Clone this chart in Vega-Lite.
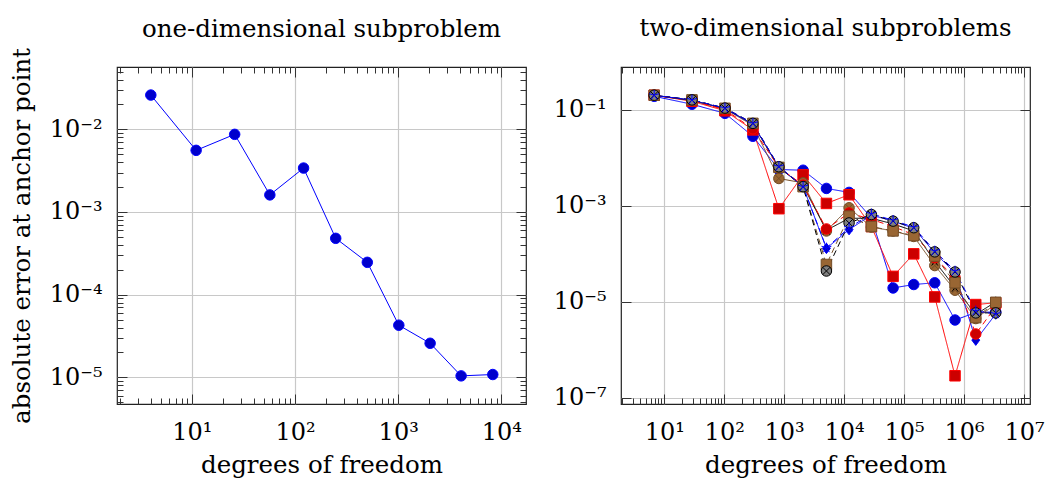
{
  "$schema": "https://vega.github.io/schema/vega-lite/v6.json",
  "background": "white",
  "padding": {"left": 8, "top": 14, "right": 0, "bottom": 0},
  "bounds": "flush",
  "spacing": 95,
  "config": {
    "view": {"stroke": "#222222", "strokeWidth": 1.2},
    "axis": {
      "domain": false,
      "ticks": true,
      "tickColor": "#333333",
      "tickWidth": 1,
      "labelFont": "DejaVu Serif",
      "labelFontSize": 24,
      "labelColor": "black",
      "titleFont": "DejaVu Serif",
      "titleFontSize": 24.5,
      "titleFontWeight": "normal",
      "titleColor": "black",
      "gridColor": "#c8c8c8",
      "gridWidth": 1.2,
      "labelOverlap": false,
      "labelFlush": false
    },
    "title": {"font": "DejaVu Serif", "fontSize": 24.5, "fontWeight": "normal", "color": "black", "frame": "group"}
  },
  "datasets": {
    "one": [
      {"d": 4.0, "e": 0.026},
      {"d": 11, "e": 0.00557},
      {"d": 26, "e": 0.0087},
      {"d": 57, "e": 0.00161},
      {"d": 121, "e": 0.0034},
      {"d": 248, "e": 0.00048},
      {"d": 502, "e": 0.000246},
      {"d": 1014, "e": 4.27e-5},
      {"d": 2040, "e": 2.58e-5},
      {"d": 4074, "e": 1.04e-5},
      {"d": 8260, "e": 1.08e-5}
    ],
    "two": [
      {"s": 1, "d": 6.8, "e": 0.19}, {"s": 1, "d": 29, "e": 0.13}, {"s": 1, "d": 103, "e": 0.084}, {"s": 1, "d": 301, "e": 0.028}, {"s": 1, "d": 816, "e": 0.0057}, {"s": 1, "d": 2070, "e": 0.0055}, {"s": 1, "d": 5070, "e": 0.0023}, {"s": 1, "d": 12100, "e": 0.0019}, {"s": 1, "d": 28500, "e": 0.00056}, {"s": 1, "d": 65600, "e": 1.95e-5}, {"s": 1, "d": 145000, "e": 2.3e-5}, {"s": 1, "d": 325000, "e": 2.5e-5}, {"s": 1, "d": 708000, "e": 4.2e-6}, {"s": 1, "d": 1570000, "e": 6.0e-6}, {"s": 1, "d": 3380000, "e": 6.2e-6},
      {"s": 2, "d": 6.8, "e": 0.2}, {"s": 2, "d": 29, "e": 0.15}, {"s": 2, "d": 103, "e": 0.095}, {"s": 2, "d": 301, "e": 0.038}, {"s": 2, "d": 816, "e": 0.00087}, {"s": 2, "d": 2070, "e": 0.0044}, {"s": 2, "d": 5070, "e": 0.00112}, {"s": 2, "d": 12100, "e": 0.0017}, {"s": 2, "d": 28500, "e": 0.00037}, {"s": 2, "d": 65600, "e": 3.4e-5}, {"s": 2, "d": 145000, "e": 1.0e-4}, {"s": 2, "d": 325000, "e": 1.27e-5}, {"s": 2, "d": 708000, "e": 2.9e-7}, {"s": 2, "d": 1570000, "e": 8.8e-6}, {"s": 2, "d": 3380000, "e": 9.6e-6},
      {"s": 3, "d": 6.8, "e": 0.2}, {"s": 3, "d": 29, "e": 0.155}, {"s": 3, "d": 103, "e": 0.104}, {"s": 3, "d": 301, "e": 0.047}, {"s": 3, "d": 816, "e": 0.0037}, {"s": 3, "d": 2070, "e": 0.003}, {"s": 3, "d": 5070, "e": 0.0003}, {"s": 3, "d": 12100, "e": 0.00091}, {"s": 3, "d": 28500, "e": 0.00036}, {"s": 3, "d": 65600, "e": 0.0003}, {"s": 3, "d": 145000, "e": 0.00023}, {"s": 3, "d": 325000, "e": 5.7e-5}, {"s": 3, "d": 708000, "e": 1.75e-5}, {"s": 3, "d": 1570000, "e": 4.5e-6}, {"s": 3, "d": 3380000, "e": 9.0e-6},
      {"s": 4, "d": 6.8, "e": 0.2}, {"s": 4, "d": 29, "e": 0.157}, {"s": 4, "d": 103, "e": 0.106}, {"s": 4, "d": 301, "e": 0.05}, {"s": 4, "d": 816, "e": 0.0062}, {"s": 4, "d": 2070, "e": 0.0026}, {"s": 4, "d": 5070, "e": 0.00031}, {"s": 4, "d": 12100, "e": 0.00055}, {"s": 4, "d": 28500, "e": 0.00055}, {"s": 4, "d": 65600, "e": 0.00042}, {"s": 4, "d": 145000, "e": 0.0003}, {"s": 4, "d": 325000, "e": 7.0e-5}, {"s": 4, "d": 708000, "e": 2.0e-5}, {"s": 4, "d": 1570000, "e": 5.5e-6}, {"s": 4, "d": 3380000, "e": 1.0e-5},
      {"s": 5, "d": 6.8, "e": 0.2}, {"s": 5, "d": 29, "e": 0.158}, {"s": 5, "d": 103, "e": 0.105}, {"s": 5, "d": 301, "e": 0.05}, {"s": 5, "d": 816, "e": 0.0064}, {"s": 5, "d": 2070, "e": 0.0025}, {"s": 5, "d": 5070, "e": 0.00013}, {"s": 5, "d": 12100, "e": 0.00032}, {"s": 5, "d": 28500, "e": 0.00064}, {"s": 5, "d": 65600, "e": 0.00048}, {"s": 5, "d": 145000, "e": 0.00034}, {"s": 5, "d": 325000, "e": 1.05e-4}, {"s": 5, "d": 708000, "e": 4.0e-5}, {"s": 5, "d": 1570000, "e": 1.6e-6}, {"s": 5, "d": 3380000, "e": 5.6e-6},
      {"s": 6, "d": 6.8, "e": 0.2}, {"s": 6, "d": 29, "e": 0.155}, {"s": 6, "d": 103, "e": 0.1}, {"s": 6, "d": 301, "e": 0.04}, {"s": 6, "d": 816, "e": 0.0063}, {"s": 6, "d": 2070, "e": 0.0027}, {"s": 6, "d": 5070, "e": 0.00033}, {"s": 6, "d": 12100, "e": 0.00071}, {"s": 6, "d": 28500, "e": 0.00052}, {"s": 6, "d": 65600, "e": 0.00037}, {"s": 6, "d": 145000, "e": 0.00025}, {"s": 6, "d": 325000, "e": 8.3e-5}, {"s": 6, "d": 708000, "e": 3.2e-5}, {"s": 6, "d": 1570000, "e": 2.15e-6}, {"s": 6, "d": 3380000, "e": 8.0e-6},
      {"s": 7, "d": 6.8, "e": 0.2}, {"s": 7, "d": 29, "e": 0.16}, {"s": 7, "d": 103, "e": 0.107}, {"s": 7, "d": 301, "e": 0.052}, {"s": 7, "d": 816, "e": 0.0063}, {"s": 7, "d": 2070, "e": 0.0025}, {"s": 7, "d": 5070, "e": 6.0e-5}, {"s": 7, "d": 12100, "e": 0.00061}, {"s": 7, "d": 28500, "e": 0.00037}, {"s": 7, "d": 65600, "e": 0.0003}, {"s": 7, "d": 145000, "e": 0.00024}, {"s": 7, "d": 325000, "e": 9.0e-5}, {"s": 7, "d": 708000, "e": 2.5e-5}, {"s": 7, "d": 1570000, "e": 4.7e-6}, {"s": 7, "d": 3380000, "e": 9.8e-6},
      {"s": 8, "d": 6.8, "e": 0.2}, {"s": 8, "d": 29, "e": 0.16}, {"s": 8, "d": 103, "e": 0.108}, {"s": 8, "d": 301, "e": 0.052}, {"s": 8, "d": 816, "e": 0.0065}, {"s": 8, "d": 2070, "e": 0.0025}, {"s": 8, "d": 5070, "e": 4.4e-5}, {"s": 8, "d": 12100, "e": 0.00044}, {"s": 8, "d": 28500, "e": 0.00066}, {"s": 8, "d": 65600, "e": 0.00048}, {"s": 8, "d": 145000, "e": 0.00035}, {"s": 8, "d": 325000, "e": 1.1e-4}, {"s": 8, "d": 708000, "e": 4.2e-5}, {"s": 8, "d": 1570000, "e": 5.9e-6}, {"s": 8, "d": 3380000, "e": 5.9e-6},
      {"s": 9, "d": 6.8, "e": 0.2}, {"s": 9, "d": 29, "e": 0.16}, {"s": 9, "d": 103, "e": 0.108}, {"s": 9, "d": 301, "e": 0.052}, {"s": 9, "d": 816, "e": 0.0066}, {"s": 9, "d": 2070, "e": 0.0025}, {"s": 9, "d": 5070, "e": 0.000133}, {"s": 9, "d": 12100, "e": 0.00035}, {"s": 9, "d": 28500, "e": 0.00068}, {"s": 9, "d": 65600, "e": 0.0005}, {"s": 9, "d": 145000, "e": 0.00036}, {"s": 9, "d": 325000, "e": 1.15e-4}, {"s": 9, "d": 708000, "e": 4.4e-5}, {"s": 9, "d": 1570000, "e": 6.5e-6}, {"s": 9, "d": 3380000, "e": 5.6e-6}
    ]
  },
  "hconcat": [
    {
      "width": 409,
      "height": 337,
      "title": {"text": "one-dimensional subproblem", "offset": 5.5},
      "data": {"name": "one"},
      "resolve": {"axis": {"x": "independent", "y": "independent"}},
      "layer": [
        {
          "mark": {"type": "line", "stroke": "#0000FF", "strokeWidth": 1},
          "encoding": {
            "x": {
              "field": "d", "type": "quantitative",
              "scale": {"type": "log", "domain": [1.88, 17340], "nice": false},
              "axis": {
                "orient": "bottom",
                "title": "degrees of freedom",
                "values": [2,3,4,5,6,7,8,9,10,20,30,40,50,60,70,80,90,100,200,300,400,500,600,700,800,900,1000,2000,3000,4000,5000,6000,7000,8000,9000,10000],
                "labelExpr": "abs(log(datum.value)/LN10 - round(log(datum.value)/LN10)) < 1e-6 ? '10' + substring('⁰¹²³⁴⁵⁶⁷⁸⁹', round(log(datum.value)/LN10), round(log(datum.value)/LN10) + 1) : ''",
                "tickSize": {"condition": {"test": "abs(log(datum.value)/LN10 - round(log(datum.value)/LN10)) < 1e-6", "value": -10}, "value": -6},
                "grid": true,
                "gridOpacity": {"condition": {"test": "abs(log(datum.value)/LN10 - round(log(datum.value)/LN10)) < 1e-6", "value": 1}, "value": 0},
                "labelPadding": 26,
                "titlePadding": 5
              }
            },
            "y": {
              "field": "e", "type": "quantitative",
              "scale": {"type": "log", "domain": [4.75e-6, 0.0568], "nice": false},
              "axis": {
                "orient": "left",
                "title": "absolute error at anchor point",
                "values": [5e-6,6e-6,7e-6,8e-6,9e-6,1e-5,2e-5,3e-5,4e-5,5e-5,6e-5,7e-5,8e-5,9e-5,1e-4,2e-4,3e-4,4e-4,5e-4,6e-4,7e-4,8e-4,9e-4,1e-3,2e-3,3e-3,4e-3,5e-3,6e-3,7e-3,8e-3,9e-3,1e-2,2e-2,3e-2,4e-2,5e-2],
                "labelExpr": "abs(log(datum.value)/LN10 - round(log(datum.value)/LN10)) < 1e-6 ? '10⁻' + substring('⁰¹²³⁴⁵⁶⁷⁸⁹', -round(log(datum.value)/LN10), -round(log(datum.value)/LN10) + 1) : ''",
                "tickSize": {"condition": {"test": "abs(log(datum.value)/LN10 - round(log(datum.value)/LN10)) < 1e-6", "value": -10}, "value": -6},
                "grid": true,
                "gridOpacity": {"condition": {"test": "abs(log(datum.value)/LN10 - round(log(datum.value)/LN10)) < 1e-6", "value": 1}, "value": 0},
                "labelPadding": 25,
                "titlePadding": 15
              }
            }
          }
        },
        {
          "mark": {"type": "point", "shape": "circle", "filled": true, "fill": "#0000CC", "stroke": "#0000FF", "strokeWidth": 1, "size": 110, "opacity": 1},
          "encoding": {
            "x": {
              "field": "d", "type": "quantitative",
              "scale": {"type": "log", "domain": [1.88, 17340], "nice": false},
              "axis": {
                "orient": "top", "title": null, "labels": false, "grid": false,
                "values": [2,3,4,5,6,7,8,9,10,20,30,40,50,60,70,80,90,100,200,300,400,500,600,700,800,900,1000,2000,3000,4000,5000,6000,7000,8000,9000,10000],
                "tickSize": {"condition": {"test": "abs(log(datum.value)/LN10 - round(log(datum.value)/LN10)) < 1e-6", "value": -10}, "value": -6}
              }
            },
            "y": {
              "field": "e", "type": "quantitative",
              "scale": {"type": "log", "domain": [4.75e-6, 0.0568], "nice": false},
              "axis": {
                "orient": "right", "title": null, "labels": false, "grid": false,
                "values": [5e-6,6e-6,7e-6,8e-6,9e-6,1e-5,2e-5,3e-5,4e-5,5e-5,6e-5,7e-5,8e-5,9e-5,1e-4,2e-4,3e-4,4e-4,5e-4,6e-4,7e-4,8e-4,9e-4,1e-3,2e-3,3e-3,4e-3,5e-3,6e-3,7e-3,8e-3,9e-3,1e-2,2e-2,3e-2,4e-2,5e-2],
                "tickSize": {"condition": {"test": "abs(log(datum.value)/LN10 - round(log(datum.value)/LN10)) < 1e-6", "value": -10}, "value": -6}
              }
            }
          }
        }
      ]
    },
    {
      "width": 409,
      "height": 337,
      "title": {"text": "two-dimensional subproblems", "offset": 25.5},
      "data": {"name": "two"},
      "resolve": {"axis": {"x": "independent", "y": "independent"}},
      "layer": [
        {
          "mark": {"type": "line", "strokeWidth": 1},
          "encoding": {
            "x": {
              "field": "d", "type": "quantitative",
              "scale": {"type": "log", "domain": [1.9, 12600000], "nice": false},
              "axis": {
                "orient": "bottom",
                "title": "degrees of freedom",
                "values": [2,3,4,5,6,7,8,9,10,20,30,40,50,60,70,80,90,100,200,300,400,500,600,700,800,900,1000,2000,3000,4000,5000,6000,7000,8000,9000,10000,20000,30000,40000,50000,60000,70000,80000,90000,100000,200000,300000,400000,500000,600000,700000,800000,900000,1000000,2000000,3000000,4000000,5000000,6000000,7000000,8000000,9000000,10000000],
                "labelExpr": "abs(log(datum.value)/LN10 - round(log(datum.value)/LN10)) < 1e-6 ? '10' + substring('⁰¹²³⁴⁵⁶⁷⁸⁹', round(log(datum.value)/LN10), round(log(datum.value)/LN10) + 1) : ''",
                "tickSize": {"condition": {"test": "abs(log(datum.value)/LN10 - round(log(datum.value)/LN10)) < 1e-6", "value": -10}, "value": -6},
                "grid": true,
                "gridOpacity": {"condition": {"test": "abs(log(datum.value)/LN10 - round(log(datum.value)/LN10)) < 1e-6", "value": 1}, "value": 0},
                "labelPadding": 26,
                "titlePadding": 5
              }
            },
            "y": {
              "field": "e", "type": "quantitative",
              "scale": {"type": "log", "domain": [7.5e-8, 0.774], "nice": false},
              "axis": {
                "orient": "left",
                "title": null,
                "values": [1e-7, 1e-5, 1e-3, 1e-1],
                "labelExpr": "'10⁻' + substring('⁰¹²³⁴⁵⁶⁷⁸⁹', -round(log(datum.value)/LN10), -round(log(datum.value)/LN10) + 1)",
                "tickSize": -10,
                "grid": true,
                "labelPadding": 25
              }
            },
            "stroke": {
              "field": "s", "type": "nominal", "legend": null,
              "scale": {"domain": [1,2,3,4,5,6,7,8,9], "range": ["#0000FF","#FF0000","#734D26","#000000","#0000FF","#FF0000","#734D26","#000000","#0000FF"]}
            },
            "strokeDash": {
              "field": "s", "type": "nominal", "legend": null,
              "scale": {"domain": [1,2,3,4,5,6,7,8,9], "range": [[1,0],[1,0],[1,0],[1,0],[1,0],[6,4],[6,4],[6,4],[6,4]]}
            }
          }
        },
        {
          "mark": {"type": "point", "filled": true, "strokeWidth": 1, "size": 110, "opacity": 1},
          "encoding": {
            "x": {
              "field": "d", "type": "quantitative",
              "scale": {"type": "log", "domain": [1.9, 12600000], "nice": false},
              "axis": {
                "orient": "top", "title": null, "labels": false, "grid": false,
                "values": [2,3,4,5,6,7,8,9,10,20,30,40,50,60,70,80,90,100,200,300,400,500,600,700,800,900,1000,2000,3000,4000,5000,6000,7000,8000,9000,10000,20000,30000,40000,50000,60000,70000,80000,90000,100000,200000,300000,400000,500000,600000,700000,800000,900000,1000000,2000000,3000000,4000000,5000000,6000000,7000000,8000000,9000000,10000000],
                "tickSize": {"condition": {"test": "abs(log(datum.value)/LN10 - round(log(datum.value)/LN10)) < 1e-6", "value": -10}, "value": -6}
              }
            },
            "y": {
              "field": "e", "type": "quantitative",
              "scale": {"type": "log", "domain": [7.5e-8, 0.774], "nice": false},
              "axis": {
                "orient": "right", "title": null, "labels": false, "grid": false,
                "values": [1e-7, 1e-5, 1e-3, 1e-1],
                "tickSize": -10
              }
            },
            "shape": {
              "field": "s", "type": "nominal", "legend": null,
              "scale": {"domain": [1,2,3,4,5,6,7,8,9], "range": [
                "circle",
                "square",
                "M1,0A1,1,0,1,1,-1,0A1,1,0,1,1,1,0ZM-0.707,-0.707L0.707,0.707M-0.707,0.707L0.707,-0.707",
                "M0,-1L0,0M-0.951,-0.309L0,0M-0.588,0.809L0,0M0.588,0.809L0,0M0.951,-0.309L0,0",
                "M0,-1L0.75,0L0,1L-0.75,0Z",
                "circle",
                "square",
                "M1,0A1,1,0,1,1,-1,0A1,1,0,1,1,1,0ZM-0.707,-0.707L0.707,0.707M-0.707,0.707L0.707,-0.707",
                "M0,-1L0,0M-0.951,-0.309L0,0M-0.588,0.809L0,0M0.588,0.809L0,0M0.951,-0.309L0,0"
              ]}
            },
            "fill": {
              "field": "s", "type": "nominal", "legend": null,
              "scale": {"domain": [1,2,3,4,5,6,7,8,9], "range": ["#0000CC","#CC0000","#996633","transparent","#0000CC","#CC0000","#996633","#808080","transparent"]}
            },
            "stroke": {
              "field": "s", "type": "nominal", "legend": null,
              "scale": {"domain": [1,2,3,4,5,6,7,8,9], "range": ["#0000FF","#FF0000","#734D26","#000000","#0000FF","#FF0000","#734D26","#000000","#0000FF"]}
            }
          }
        }
      ]
    }
  ]
}
